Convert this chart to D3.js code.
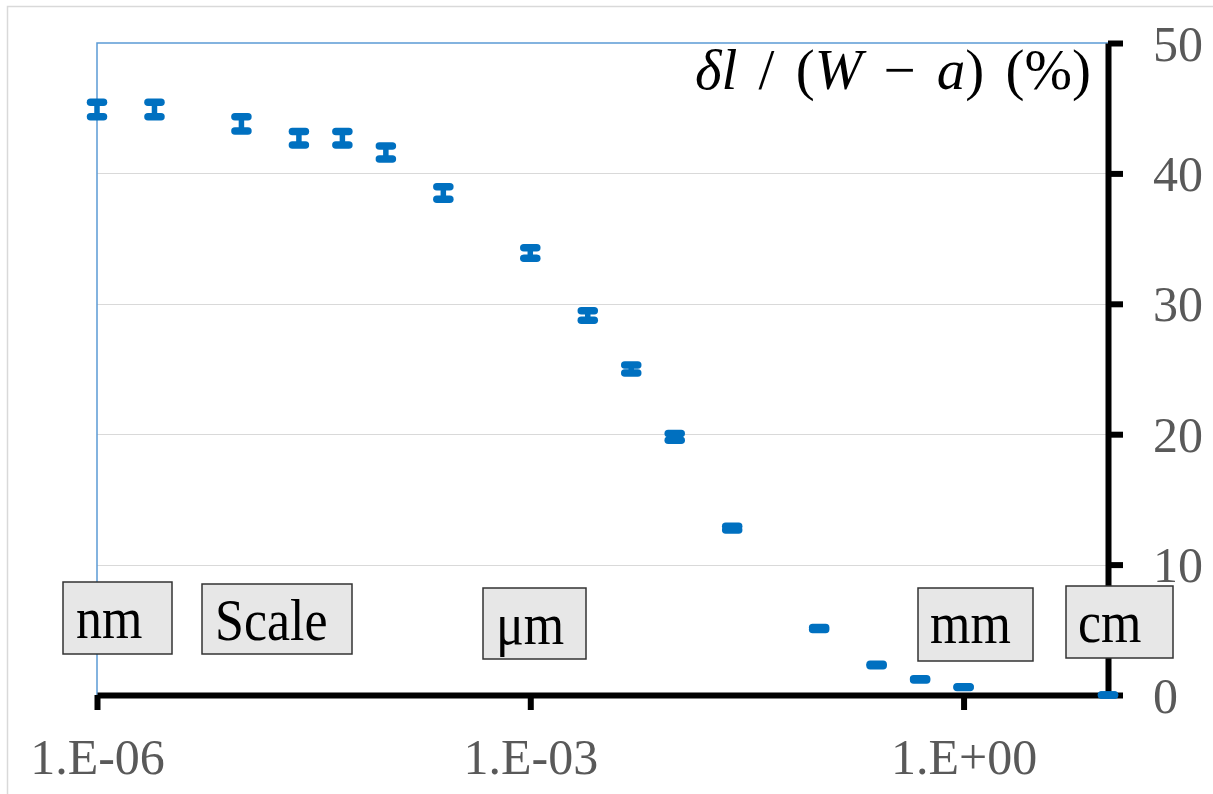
<!DOCTYPE html>
<html>
<head>
<meta charset="utf-8">
<script src="https://cdn.jsdelivr.net/npm/d3@7"></script>
<style>
  body { margin: 0; background: #fff; }
  svg { display: block; }
</style>
</head>
<body>
<div id="chart"></div>
<script>
// specimen length scale vs. relative deviation
const lengthScale = [1e-6, 2.5e-6, 1e-5, 2.5e-5, 5e-5, 1e-4, 2.5e-4, 1e-3, 2.5e-3, 5e-3, 1e-2, 2.5e-2, 1e-1, 2.5e-1, 5e-1, 1, 10]
const deltaPct = [44.9, 44.9, 43.8, 42.7, 42.7, 41.6, 38.5, 33.9, 29.1, 25.0, 19.8, 12.8, 5.1, 2.3, 1.2, 0.6, 0.0]
const errPct = [0.55, 0.55, 0.55, 0.52, 0.52, 0.5, 0.48, 0.4, 0.36, 0.31, 0.26, 0.15, 0.08, 0.05, 0.05, 0.03, 0]
const xTicks = [1e-6, 1e-3, 1e0]
const yTicks = [0, 10, 20, 30, 40, 50]
const unitLabels = ["nm", "Scale", "\u03bcm", "mm", "cm"]

const width = 1213
const height = 794
const margin = ({ top: 43, right: 105, bottom: 99, left: 97 })
const serif = "'Liberation Serif', 'Times New Roman', serif"
const blue = "#0070c0"

// box positions for the unit annotations
const boxLayout = [
    { x: 63, y: 582, w: 109, h: 72, tx: 13, ty: 56 },
    { x: 202, y: 584, w: 150, h: 70, tx: 13, ty: 56 },
    { x: 483, y: 588, w: 103, h: 71, tx: 13, ty: 56 },
    { x: 918, y: 588, w: 115, h: 73, tx: 12, ty: 55 },
    { x: 1066, y: 586, w: 107, h: 72, tx: 12, ty: 56 }
]

var x = d3.scaleLog()
    .domain([1e-6, 10])
    .range([margin.left, width - margin.right])

var y = d3.scaleLinear()
    .domain([0, 50])
    .range([height - margin.bottom, margin.top])

var svg = d3.select('#chart')
    .append("svg")
    .attr('width', width)
    .attr('height', height)

// outer chart border
svg.append("rect")
    .attr("x", 7.5)
    .attr("y", 6.5)
    .attr("width", 1300)
    .attr("height", 900)
    .attr("fill", "none")
    .attr("stroke", "#d9d9d9")
    .attr("stroke-width", 1.5)

// gridlines
svg.append("g")
    .selectAll("line")
    .data(yTicks.filter(d => d > 0 && d < 50))
    .join("line")
    .attr("x1", margin.left)
    .attr("x2", width - margin.right)
    .attr("y1", d => Math.round(y(d)) + 0.5)
    .attr("y2", d => Math.round(y(d)) + 0.5)
    .attr("stroke", "#d9d9d9")
    .attr("stroke-width", 1)

// plot area border (left + top visible)
svg.append("path")
    .attr("d", `M${margin.left},${height - margin.bottom} V${margin.top} H${width - margin.right}`)
    .attr("fill", "none")
    .attr("stroke", "#5b9bd5")
    .attr("stroke-width", 1.5)

const expFmt = d => {
    const e = Math.round(Math.log10(d))
    return "1.E" + (e < 0 ? "-" : "+") + String(Math.abs(e)).padStart(2, "0")
}

xAxis = g => g
    .attr("transform", `translate(0,${height - margin.bottom})`)
    .call(d3.axisBottom(x).tickValues(xTicks).tickFormat(expFmt).tickSize(15).tickSizeOuter(0))
    .call(g => g.select(".domain").attr("stroke-width", 6).attr("stroke", "#000"))
    .call(g => g.selectAll(".tick line").attr("stroke-width", 6).attr("stroke", "#000"))
    .call(g => g.selectAll("text")
        .attr("y", 79)
        .attr("dy", 0)
        .attr("fill", "#595959")
        .attr("font-family", serif)
        .attr("font-size", 50))

yAxis = g => g
    .attr("transform", `translate(${width - margin.right},0)`)
    .call(d3.axisRight(y).tickValues(yTicks).tickSize(15).tickSizeOuter(0).tickPadding(30))
    .call(g => g.select(".domain").attr("stroke-width", 6).attr("stroke", "#000"))
    .call(g => g.selectAll(".tick line").attr("stroke-width", 6).attr("stroke", "#000"))
    .call(g => g.selectAll("text")
        .attr("dy", "0.34em")
        .attr("fill", "#595959")
        .attr("font-family", serif)
        .attr("font-size", 50))

svg.append("g").call(xAxis)
svg.append("g").call(yAxis)

// error bars (no markers)
const pts = lengthScale.map((v, i) => ({ x: v, y: deltaPct[i], e: errPct[i] }))
const bars = svg.append("g")
    .attr("stroke", blue)
    .selectAll("g")
    .data(pts)
    .join("g")

bars.append("line")
    .attr("x1", d => x(d.x))
    .attr("x2", d => x(d.x))
    .attr("y1", d => y(d.y + d.e))
    .attr("y2", d => y(d.y - d.e))
    .attr("stroke-width", 5.5)

bars.selectAll(".cap")
    .data(d => [{ x: d.x, v: d.y + d.e }, { x: d.x, v: d.y - d.e }])
    .join("line")
    .attr("class", "cap")
    .attr("x1", d => x(d.x) - 6.5)
    .attr("x2", d => x(d.x) + 6.5)
    .attr("y1", d => y(d.v))
    .attr("y2", d => y(d.v))
    .attr("stroke-width", 7.5)
    .attr("stroke-linecap", "round")

// axis title
const title = svg.append("text")
    .attr("x", 1091)
    .attr("y", 89)
    .attr("text-anchor", "end")
    .attr("font-family", serif)
    .attr("font-size", 57)
    .attr("word-spacing", 7)
    .attr("fill", "#000")
title.append("tspan").attr("font-style", "italic").text("\u03b4l")
title.append("tspan").text(" / (")
title.append("tspan").attr("font-style", "italic").text("W")
title.append("tspan").text(" \u2212 ")
title.append("tspan").attr("font-style", "italic").text("a")
title.append("tspan").text(") (%)")

// unit annotation boxes
const boxes = svg.append("g")
    .selectAll("g")
    .data(unitLabels)
    .join("g")
    .attr("transform", (d, i) => `translate(${boxLayout[i].x},${boxLayout[i].y})`)

boxes.append("rect")
    .attr("width", (d, i) => boxLayout[i].w)
    .attr("height", (d, i) => boxLayout[i].h)
    .attr("fill", "#e7e7e7")
    .attr("stroke", "#333")
    .attr("stroke-width", 1.5)

boxes.append("text")
    .attr("transform", (d, i) => `translate(${boxLayout[i].tx},${boxLayout[i].ty}) scale(1,1.12)`)
    .attr("font-family", serif)
    .attr("font-size", 52)
    .attr("fill", "#000")
    .text(d => d)
</script>
</body>
</html>
